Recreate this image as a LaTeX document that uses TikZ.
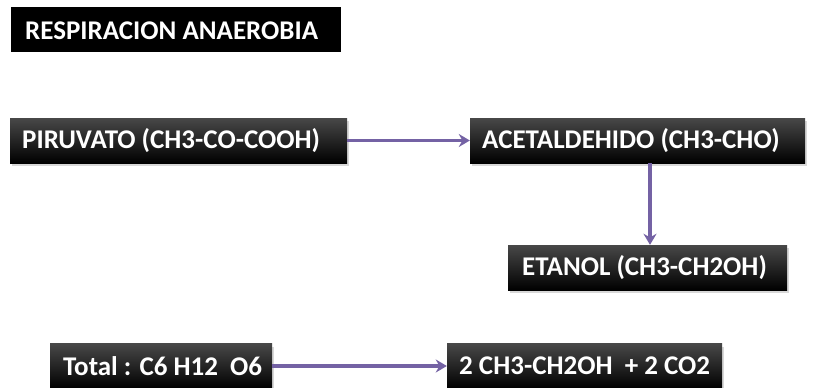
\documentclass[tikz,border=0pt]{standalone}
\usepackage{fontspec}
\setmainfont{Carlito}
\usetikzlibrary{arrows.meta,shadows,calc}
\definecolor{arrowc}{RGB}{116,98,164}
\tikzset{
  box/.style={draw=none, top color={rgb,255:red,72;green,72;blue,72}, bottom color=black,
    minimum height=45pt, inner sep=0pt,
    drop shadow={shadow xshift=2pt, shadow yshift=-3pt, opacity=0.3, fill=gray}},
  titlebox/.style={draw=none, fill=black, minimum height=45pt, inner sep=0pt},
  lbl/.style={text=white, anchor=west, inner sep=0pt, font=\bfseries\fontsize{27}{31}\selectfont},
  arr/.style={draw=arrowc, line width=3.2pt, -{Stealth[length=11pt,width=13pt]}}
}
\begin{document}
\begin{tikzpicture}[x=1pt,y=-1pt]
\useasboundingbox[fill=white] (0,0) rectangle (815,388);
% boxes
\node[titlebox, minimum width=330pt] (title) at (176,29.5) {};
\node[lbl] (titlet) at (25,31) {RESPIRACION ANAEROBIA};
\node[box, minimum width=337pt] (piru) at (178.5,140.5) {};
\node[lbl] (pirut) at (22,141) {PIRUVATO (CH3-CO-COOH)};
\node[box, minimum width=335pt] (acet) at (637.5,140.5) {};
\node[lbl] (acett) at (482,141) {ACETALDEHIDO (CH3-CHO)};
\node[box, minimum width=279pt] (etan) at (647.5,267.5) {};
\node[lbl] (etant) at (522,268) {ETANOL (CH3-CH2OH)};
\node[box, minimum width=222pt] (total) at (161,366) {};
\node[lbl] (totalt) at (63,366) {Total : C6 H12~ O6};
\node[box, minimum width=275pt] (res) at (584.5,366) {};
\node[lbl] (rest) at (459,366) {2 CH3-CH2OH ~+ 2 CO2};
% arrows
\draw[arr] (piru.east) -- (acet.west);
\coordinate (vtop) at ([xshift=12.5pt]acet.south);
\draw[arr] (vtop) -- (vtop |- etan.north);
\draw[arr] (total.east) -- (res.west);
\end{tikzpicture}
\end{document}
